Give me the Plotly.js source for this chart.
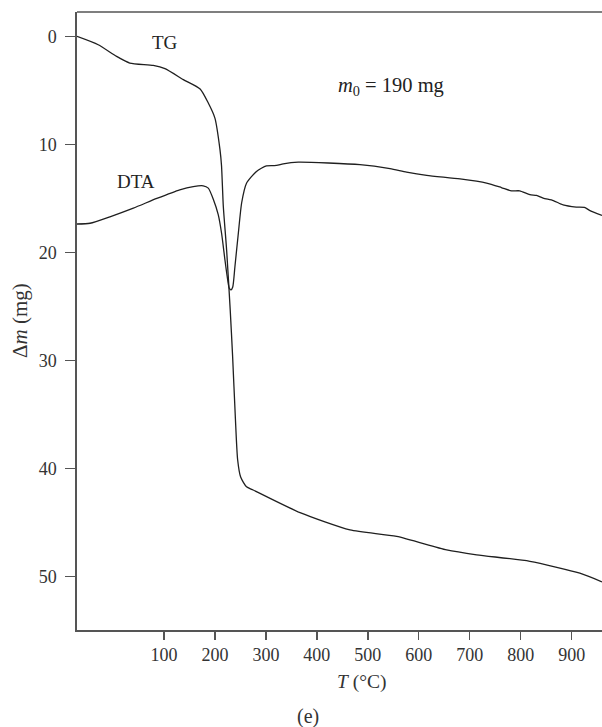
<!DOCTYPE html>
<html>
<head>
<meta charset="utf-8">
<script src="https://cdn.plot.ly/plotly-3.0.1.min.js"></script>
<style>
  html, body { margin: 0; padding: 0; background: #fff; }
  #chart { width: 602px; height: 727px; }
</style>
</head>
<body>
<div id="chart"></div>
<script>
// Thermogravimetric (TG) mass loss and DTA trace versus temperature
const tgTemp = [-70.7, -29, 7, 33, 79, 102, 138, 171, 187, 200, 210, 213, 216.5, 223, 230, 234.7, 240, 244.6, 250.5, 262, 275, 367, 465, 556.6, 654.7, 713.6, 818, 916, 959.5];
const tgMass = [0.0, 0.77, 1.85, 2.47, 2.69, 2.99, 4.0, 4.87, 6.17, 7.56, 10.5, 12.0, 15.75, 19.8, 25.3, 29.6, 35.2, 39.2, 40.8, 41.7, 42.0, 44.1, 45.7, 46.3, 47.55, 48.0, 48.6, 49.7, 50.5];

const dtaTemp = [-70.7, -45, -6, 40, 86, 131, 157.5, 177, 187, 197, 206.5, 213, 219.7, 224, 228, 231.5, 235, 239.3, 246, 252.5, 262, 281.6, 301, 321, 334, 363.5, 484.6, 543.5, 576, 615.5, 681, 733, 762, 782, 798, 818, 831, 844, 864, 883, 909, 925, 935, 959.5];
const dtaSignal = [17.37, 17.3, 16.7, 15.9, 15.0, 14.2, 13.9, 13.83, 14.05, 15.1, 16.5, 18.2, 20.7, 22.2, 23.3, 23.47, 23.2, 21.3, 18.2, 15.4, 13.6, 12.5, 11.98, 11.95, 11.8, 11.64, 11.88, 12.25, 12.57, 12.87, 13.2, 13.58, 13.99, 14.3, 14.3, 14.66, 14.72, 14.97, 15.2, 15.6, 15.8, 15.84, 16.1, 16.58];

const xTicks = [100, 200, 300, 400, 500, 600, 700, 800, 900];
const yTicks = [0, 10, 20, 30, 40, 50];

const serif = '"Liberation Serif", "DejaVu Serif", serif';
const ink = '#1f1f1f';

const traces = [
  { x: tgTemp, y: tgMass, mode: 'lines', line: { color: ink, width: 1.3, shape: 'spline', smoothing: 0.6 }, hoverinfo: 'skip' },
  { x: dtaTemp, y: dtaSignal, mode: 'lines', line: { color: ink, width: 1.3, shape: 'spline', smoothing: 0.6 }, hoverinfo: 'skip' }
];

const axisCommon = {
  showgrid: false, zeroline: false, showline: true, linecolor: '#555', linewidth: 1.6,
  ticks: 'outside', tickcolor: '#555', tickwidth: 1.4,
  tickfont: { family: serif, size: 18, color: '#333' }
};

const layout = {
  width: 602, height: 727,
  margin: { l: 77, r: 0, t: 12, b: 97 },
  paper_bgcolor: '#fff', plot_bgcolor: '#fff',
  showlegend: false,
  xaxis: Object.assign({}, axisCommon, {
    range: [-70.6, 959.5], tickvals: xTicks, ticktext: xTicks.map(String), ticklen: 8
  }),
  yaxis: Object.assign({}, axisCommon, {
    range: [54.96, -2.26], tickvals: yTicks, ticktext: yTicks.map(String), ticklen: 10,
    ticklabelstandoff: 5
  }),
  shapes: [
    { type: 'line', xref: 'paper', yref: 'paper', x0: 0, x1: 1, y0: 1, y1: 1, line: { color: '#555', width: 1.6 } }
  ],
  annotations: [
    { text: 'TG', xref: 'paper', yref: 'paper', x: (165 - 77) / 525, y: 1 - (42.7 - 12) / 618, xanchor: 'center', yanchor: 'middle', showarrow: false, font: { family: serif, size: 19, color: '#222' } },
    { text: 'DTA', xref: 'paper', yref: 'paper', x: (136 - 77) / 525, y: 1 - (181 - 12) / 618, xanchor: 'center', yanchor: 'middle', showarrow: false, font: { family: serif, size: 19, color: '#222' } },
    { text: '<i>m</i><sub>0</sub> = 190 mg', xref: 'paper', yref: 'paper', x: (336 - 77) / 525, y: 1 - (86 - 12) / 618, xanchor: 'left', yanchor: 'middle', showarrow: false, font: { family: serif, size: 20.5, color: '#222' } },
    { text: 'Δ<i>m</i> (mg)', xref: 'paper', yref: 'paper', x: (20 - 77) / 525, y: 0.5, xanchor: 'center', yanchor: 'middle', textangle: -90, showarrow: false, font: { family: serif, size: 21, color: '#333' } },
    { text: '<i>T</i> (°C)', xref: 'paper', yref: 'paper', x: (362 - 77) / 525, y: -(681.7 - 630) / 618, xanchor: 'center', yanchor: 'middle', showarrow: false, font: { family: serif, size: 19.5, color: '#333' } },
    { text: '(e)', xref: 'paper', yref: 'paper', x: (308 - 77) / 525, y: -(716 - 630) / 618, xanchor: 'center', yanchor: 'middle', showarrow: false, font: { family: serif, size: 20, color: '#333' } }
  ]
};

Plotly.newPlot('chart', traces, layout, { staticPlot: true, displayModeBar: false });
</script>
</body>
</html>
